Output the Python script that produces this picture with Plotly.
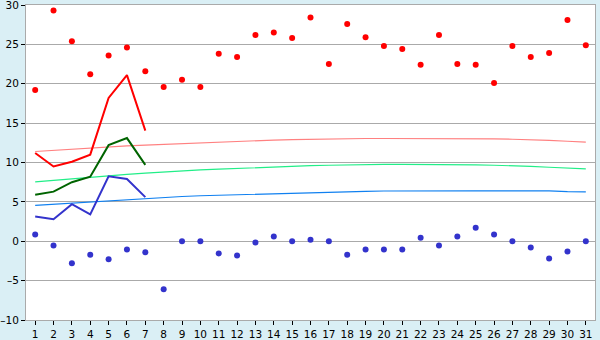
import plotly.graph_objects as go

days = list(range(1, 32))
tmax = [19.2, 29.3, 25.4, 21.2, 23.6, 24.6, 21.6, 19.6, 20.5, 19.6,
        23.8, 23.4, 26.2, 26.5, 25.8, 28.4, 22.5, 27.6, 25.9, 24.8,
        24.4, 22.4, 26.2, 22.5, 22.4, 20.1, 24.8, 23.4, 23.9, 28.1, 24.9]
tmin = [0.85, -0.55, -2.8, -1.7, -2.3, -1.05, -1.4, -6.1, 0.0, 0.0,
        -1.55, -1.8, -0.15, 0.6, 0.0, 0.2, 0.0, -1.7, -1.05, -1.05,
        -1.05, 0.45, -0.55, 0.6, 1.7, 0.85, 0.0, -0.8, -2.2, -1.3, 0.0]
line_days = [1, 2, 3, 4, 5, 6, 7]
line_max = [11.2, 9.5, 10.1, 11.0, 18.2, 21.1, 14.05]
line_avg = [5.9, 6.3, 7.5, 8.2, 12.2, 13.1, 9.7]
line_min = [3.15, 2.8, 4.7, 3.4, 8.25, 7.9, 5.6]
norm_max = [11.4, 11.55, 11.7, 11.85, 12.0, 12.1, 12.2, 12.3, 12.4, 12.5,
            12.6, 12.7, 12.8, 12.85, 12.9, 12.95, 13.0, 13.0, 13.05, 13.05,
            13.05, 13.05, 13.05, 13.05, 13.0, 13.0, 12.95, 12.9, 12.8, 12.7, 12.6]
norm_avg = [7.55, 7.75, 7.95, 8.15, 8.3, 8.5, 8.65, 8.8, 8.95, 9.07,
            9.15, 9.25, 9.35, 9.45, 9.5, 9.6, 9.65, 9.7, 9.75, 9.75,
            9.75, 9.75, 9.75, 9.75, 9.7, 9.65, 9.6, 9.5, 9.4, 9.3, 9.2]
norm_min = [4.55, 4.7, 4.85, 5.0, 5.15, 5.3, 5.45, 5.55, 5.68, 5.78,
            5.85, 5.9, 5.97, 6.03, 6.1, 6.15, 6.22, 6.28, 6.33, 6.38,
            6.4, 6.4, 6.4, 6.4, 6.4, 6.4, 6.4, 6.4, 6.4, 6.3, 6.28]
y_ticks = [-10, -5, 0, 5, 10, 15, 20, 25, 30]
y_labels = ["\u201310", "\u20135", "0", "5", "10", "15", "20", "25", "30"]

fig = go.Figure()
fig.add_trace(go.Scatter(x=days, y=norm_max, mode="lines",
                         line=dict(color="#FF8080", width=1.2)))
fig.add_trace(go.Scatter(x=days, y=norm_avg, mode="lines",
                         line=dict(color="#22EE88", width=1.2)))
fig.add_trace(go.Scatter(x=days, y=norm_min, mode="lines",
                         line=dict(color="#1080F0", width=1.2)))
fig.add_trace(go.Scatter(x=line_days, y=line_max, mode="lines",
                         line=dict(color="#FF0000", width=2)))
fig.add_trace(go.Scatter(x=line_days, y=line_avg, mode="lines",
                         line=dict(color="#006400", width=2)))
fig.add_trace(go.Scatter(x=line_days, y=line_min, mode="lines",
                         line=dict(color="#3333CC", width=2)))
fig.add_trace(go.Scatter(x=days, y=tmax, mode="markers",
                         marker=dict(symbol="circle", size=6, color="#FF0000",
                                     line=dict(width=0))))
fig.add_trace(go.Scatter(x=days, y=tmin, mode="markers",
                         marker=dict(symbol="circle", size=6, color="#3333CC",
                                     line=dict(width=0))))

fig.update_layout(
    width=600, height=340,
    margin=dict(l=26, r=5, t=5, b=20, autoexpand=False),
    paper_bgcolor="#DAEFF5",
    plot_bgcolor="#FFFFFF",
    showlegend=False,
    font=dict(family="DejaVu Sans", size=11, color="#000000"),
)
fig.update_xaxes(range=[0.5, 31.5], tickmode="array", tickvals=days,
                 ticktext=[str(d) for d in days], automargin=False,
                 ticks="outside", ticklen=4, tickcolor="#000000",
                 ticklabeloverflow="allow", tickfont=dict(size=10.5),
                 showgrid=False, zeroline=False,
                 showline=True, linecolor="#AAAAAA", mirror=True)
fig.update_yaxes(range=[-10, 30], tickmode="array", tickvals=y_ticks,
                 ticktext=y_labels, ticks="outside", ticklen=4,
                 automargin=False, ticklabeloverflow="allow",
                 tickfont=dict(size=10.5),
                 tickcolor="#000000", showgrid=True, gridcolor="#AAAAAA",
                 gridwidth=1, zeroline=False,
                 showline=True, linecolor="#AAAAAA", mirror=True)

fig.write_html("out.html")
